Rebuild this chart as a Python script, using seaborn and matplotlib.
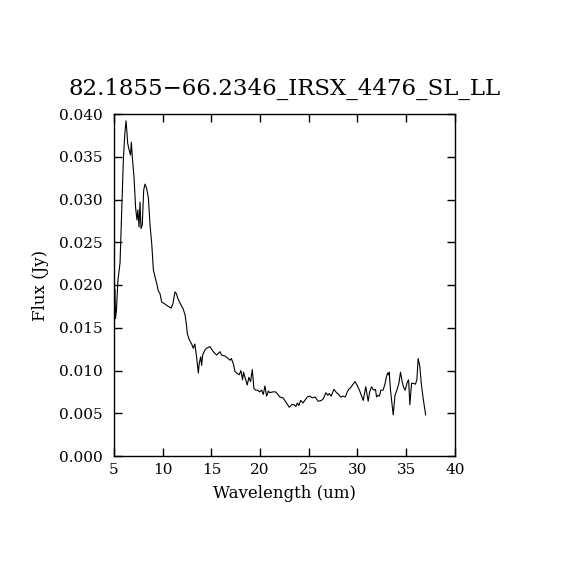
import numpy as np
import pandas as pd
import matplotlib
matplotlib.use("Agg")
import matplotlib.pyplot as plt
import seaborn as sns

# spectrum
wavelength = [5.10, 5.15, 5.25, 5.40, 5.62, 5.79, 5.96, 6.10, 6.23, 6.32,
              6.40, 6.55, 6.70, 6.78, 6.90, 7.05, 7.22, 7.36, 7.45, 7.57,
              7.67, 7.77, 7.90, 8.05, 8.18, 8.35, 8.53, 8.70, 8.87, 9.04,
              9.20, 9.38, 9.55, 9.72, 9.90, 10.20, 10.57, 10.85, 11.05, 11.26,
              11.40, 11.60, 11.95, 12.10, 12.30, 12.45, 12.53, 12.73, 12.97, 13.14,
              13.30, 13.48, 13.66, 13.75, 13.90, 14.00, 14.10, 14.34, 14.50, 14.85,
              15.20, 15.54, 15.88, 16.05, 16.39, 16.73, 16.90, 17.05, 17.25, 17.42,
              17.60, 17.86, 18.03, 18.20, 18.30, 18.45, 18.68, 18.85, 19.02, 19.20,
              19.37, 19.55, 19.76, 19.95, 20.16, 20.33, 20.50, 20.67, 20.85, 21.00,
              21.30, 21.60, 22.04, 22.35, 22.60, 23.00, 23.25, 23.50, 23.68, 23.83,
              23.98, 24.17, 24.40, 24.85, 25.10, 25.36, 25.65, 25.97, 26.30, 26.50,
              26.76, 26.95, 27.10, 27.30, 27.58, 27.85, 28.00, 28.27, 28.50, 28.75,
              28.95, 29.10, 29.30, 29.74, 29.95, 30.20, 30.40, 30.59, 30.75, 30.85,
              31.10, 31.25, 31.45, 31.60, 31.75, 31.85, 31.96, 32.10, 32.25, 32.40,
              32.62, 32.80, 32.98, 33.10, 33.20, 33.26, 33.40, 33.67, 33.85, 34.08,
              34.25, 34.42, 34.60, 34.75, 34.90, 35.13, 35.25, 35.38, 35.55, 35.75,
              35.95, 36.10, 36.23, 36.40, 36.55, 36.75, 37.00]
flux = [0.0195, 0.0161, 0.0170, 0.0205, 0.0226, 0.0288, 0.0346, 0.0375, 0.0392, 0.0380,
        0.0366, 0.0358, 0.0352, 0.0367, 0.0347, 0.0327, 0.0290, 0.0276, 0.0288, 0.0268,
        0.0297, 0.0266, 0.0270, 0.0311, 0.0318, 0.0313, 0.0302, 0.0270, 0.0249, 0.0218,
        0.0210, 0.0202, 0.0193, 0.0190, 0.0180, 0.0178, 0.0175, 0.0173, 0.0178, 0.0192,
        0.0190, 0.0183, 0.0175, 0.0172, 0.0165, 0.0152, 0.0143, 0.0136, 0.0131, 0.0126,
        0.0131, 0.0116, 0.0097, 0.0108, 0.0116, 0.0106, 0.0118, 0.0124, 0.0126, 0.0128,
        0.0122, 0.0118, 0.0122, 0.0118, 0.0117, 0.0114, 0.0112, 0.0114, 0.0108, 0.0099,
        0.0097, 0.0095, 0.0100, 0.0089, 0.0098, 0.0092, 0.0083, 0.0092, 0.0087, 0.0101,
        0.0079, 0.0077, 0.0077, 0.0075, 0.0077, 0.0072, 0.0082, 0.0070, 0.0076, 0.0074,
        0.0075, 0.0075, 0.0069, 0.0068, 0.0064, 0.0057, 0.0060, 0.0060, 0.0058, 0.0062,
        0.0059, 0.0065, 0.0062, 0.0069, 0.0070, 0.0068, 0.0069, 0.0064, 0.0065, 0.0067,
        0.0074, 0.0071, 0.0073, 0.0070, 0.0078, 0.0074, 0.0073, 0.0069, 0.0070, 0.0069,
        0.0075, 0.0078, 0.0080, 0.0087, 0.0083, 0.0077, 0.0071, 0.0065, 0.0075, 0.0081,
        0.0064, 0.0075, 0.0081, 0.0078, 0.0077, 0.0078, 0.0069, 0.0071, 0.0070, 0.0077,
        0.0077, 0.0083, 0.0093, 0.0097, 0.0095, 0.0098, 0.0076, 0.0048, 0.0071, 0.0078,
        0.0085, 0.0098, 0.0086, 0.0080, 0.0077, 0.0087, 0.0089, 0.0060, 0.0085, 0.0085,
        0.0084, 0.0089, 0.0114, 0.0105, 0.0085, 0.0067, 0.0048]

df = pd.DataFrame({"Wavelength": wavelength, "Flux": flux})

sns.set_style("ticks")
plt.rcParams["font.family"] = ["DejaVu Serif"]
plt.rcParams["text.color"] = "black"
plt.rcParams["axes.labelcolor"] = "black"

fig = plt.figure(figsize=(5.7, 5.7), dpi=100)
ax = fig.add_axes([0.2, 0.2, 0.598, 0.6])

sns.lineplot(data=df, x="Wavelength", y="Flux", sort=False, color="black",
             linewidth=0.8, ax=ax)

ax.set_xlim(5, 40)
ax.set_ylim(0, 0.04)
ax.set_xticks([5, 10, 15, 20, 25, 30, 35, 40])
ax.set_yticks([0.0, 0.005, 0.01, 0.015, 0.02, 0.025, 0.03, 0.035, 0.04])
ax.set_yticklabels(["%.3f" % v for v in ax.get_yticks()])
ax.tick_params(direction="in", top=True, right=True, length=6, width=1,
               labelsize=11, colors="black")
ax.tick_params(axis="y", pad=8)
ax.tick_params(axis="x", pad=5)
for s in ax.spines.values():
    s.set_visible(True)
    s.set_linewidth(1)
    s.set_color("black")

ax.set_xlabel("Wavelength (um)", fontsize=12, labelpad=6)
ax.set_ylabel("Flux (Jy)", fontsize=12, labelpad=7)
ax.set_title("82.1855\u221266.2346_IRSX_4476_SL_LL", fontsize=16.5, pad=14,
             color="black")

fig.savefig("out.png", dpi=100, facecolor="white")
